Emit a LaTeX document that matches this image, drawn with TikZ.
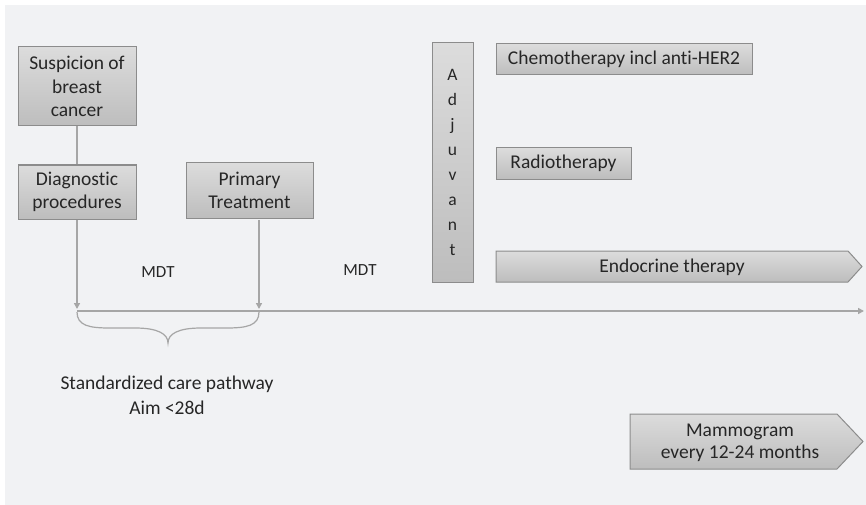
\documentclass[tikz,border=0pt]{standalone}
\usepackage{fontspec}
\setmainfont{Carlito}[Ligatures={NoCommon}]
\usetikzlibrary{arrows.meta}
\definecolor{bgc}{HTML}{F1F2F4}
\definecolor{boxtop}{HTML}{DCDCDC}
\definecolor{boxbot}{HTML}{BDBDBD}
\definecolor{boxline}{HTML}{8C8C8C}
\definecolor{txt}{HTML}{262626}
\definecolor{conn}{HTML}{A6A6A6}
\tikzset{
  gbox/.style={draw=boxline, line width=1pt, top color=boxtop, bottom color=boxbot, align=center, text=txt, inner sep=0pt, font=\fontsize{19.5}{23.5}\selectfont},
  lbl/.style={text=txt, align=center, inner sep=0pt},
  conline/.style={draw=conn, line width=1.6pt},
  tip/.style={-{Triangle[length=6pt,width=6pt]}}
}
\begin{document}
\begin{tikzpicture}[x=1pt,y=-1pt]
\useasboundingbox (0,0) rectangle (866,505);
\fill[white] (0,0) rectangle (866,505);
\fill[bgc] (5,5) rectangle (866,505);

\node[gbox, minimum width=118pt, minimum height=79pt] (sus) at (77,86.5) {Suspicion of\\breast\\cancer};
\node[gbox, minimum width=118pt, minimum height=54pt] (diag) at (77,192) {Diagnostic\\procedures};
\node[gbox, minimum width=127pt, minimum height=55pt] (prim) at (249.5,190.5) {Primary\\Treatment};
\node[gbox, minimum width=41pt, minimum height=239pt, font=\fontsize{17.5}{25}\selectfont] (adj) at (452.5,162.5) {A\\d\\j\\u\\v\\a\\n\\t};
\node[gbox, minimum width=256pt, minimum height=31pt] (chemo) at (624,59.5) {Chemotherapy incl anti-HER2};
\node[gbox, minimum width=135pt, minimum height=31pt] (radio) at (563.5,163.5) {Radiotherapy};

% endocrine arrow shape
\shade[draw=boxline, line width=1pt, top color=boxtop, bottom color=boxbot]
  (496,251) -- (848,251) -- (862,266.5) -- (848,282) -- (496,282) -- cycle;
\node[lbl, font=\fontsize{19.5}{23.5}\selectfont] (endo) at (672,267) {Endocrine therapy};

% mammogram arrow shape
\shade[draw=boxline, line width=1pt, top color=boxtop, bottom color=boxbot]
  (630,414) -- (837,414) -- (863,441.5) -- (837,469) -- (630,469) -- cycle;
\node[lbl, font=\fontsize{19.5}{22.5}\selectfont] (mammo) at (740,443) {Mammogram\\every 12-24 months};

% timeline
\coordinate (tl0) at (77,311);
\coordinate (tlend) at (864,311);
\coordinate (d1) at (77,309);
\coordinate (p1) at (259,309);
\draw[conline, tip] (tl0) -- (tlend);
\draw[conline] (sus) -- (diag);
\draw[conline, tip] (diag) -- (d1);
\draw[conline, tip] (259,220) -- (p1);

% brace
\draw[draw=conn, line width=1.2pt]
  (77,312) .. controls (77,326) and (90,328) .. (110,328) -- (135,328)
  .. controls (158,328) and (168,334) .. (168,343)
  .. controls (168,334) and (178,328) .. (201,328) -- (226,328)
  .. controls (246,328) and (259,326) .. (259,312);

\node[lbl, font=\fontsize{17}{20}\selectfont] (mdt1) at (158,272) {MDT};
\node[lbl, font=\fontsize{17}{20}\selectfont] (mdt2) at (360,270) {MDT};
\node[lbl, font=\fontsize{19.5}{25}\selectfont] (scp) at (167,395) {Standardized care pathway\\Aim <28d};
\end{tikzpicture}
\end{document}
